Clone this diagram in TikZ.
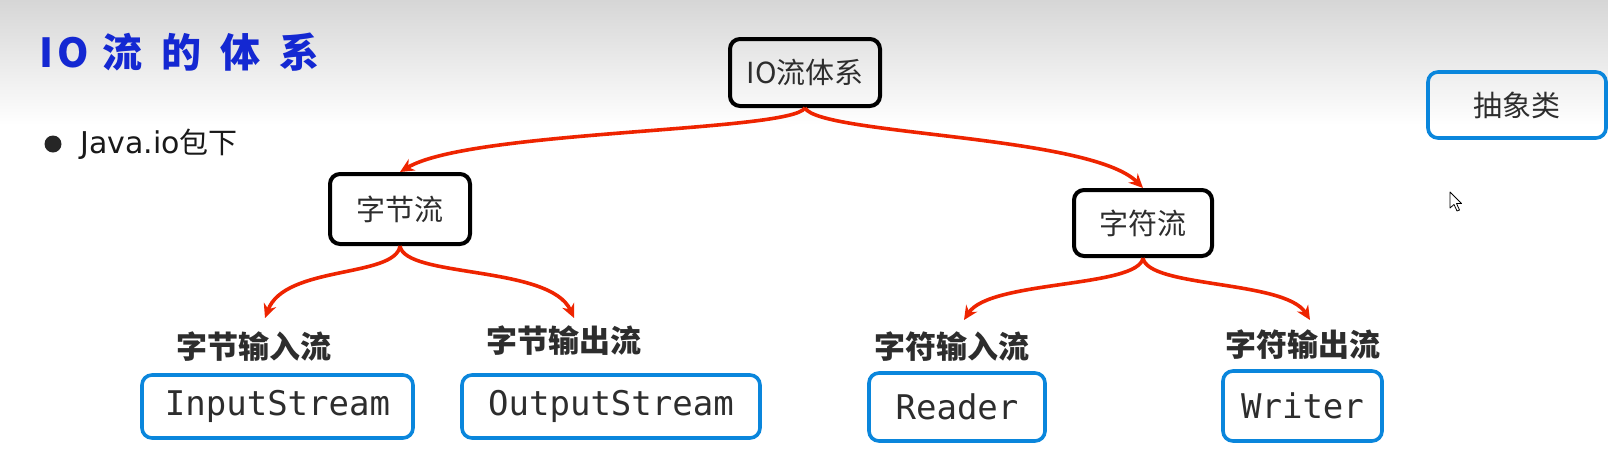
\documentclass[tikz,border=0pt]{standalone}
\usepackage{fontspec}
\usetikzlibrary{arrows.meta}
\newfontfamily\cjk{Noto Sans CJK SC}
\newfontfamily\monof{DejaVu Sans Mono}
\newfontfamily\dejavu{DejaVu Sans}
\definecolor{arrred}{RGB}{238,36,0}
\definecolor{boxblue}{RGB}{10,134,220}
\definecolor{txtgray}{RGB}{45,45,45}
\definecolor{titleblue}{RGB}{20,40,210}
\definecolor{topgray}{RGB}{214,214,214}
\tikzset{
  blackbox/.style={draw=black, line width=4pt, rounded corners=10pt, inner sep=0pt,
    font=\cjk\fontsize{29}{29}\selectfont, text=txtgray},
  bluebox/.style={draw=boxblue, line width=3.6pt, rounded corners=10pt, inner sep=0pt,
    font=\monof\fontsize{34}{34}\selectfont, text=txtgray},
  catlabel/.style={font=\cjk\bfseries\fontsize{31}{31}\selectfont, text=txtgray, inner sep=0pt},
  link/.style={draw=arrred, line width=3.6pt, -{Stealth[length=14pt,width=13pt]}}
}
\begin{document}
\begin{tikzpicture}[x=1pt,y=-1pt]
\useasboundingbox (0,0) rectangle (1608,472);
\fill[white] (0,0) rectangle (1608,472);
\shade[top color=topgray, bottom color=white] (0,0) rectangle (1608,125);

% title
\node[anchor=west, inner sep=0pt, text=titleblue, font=\cjk\bfseries\fontsize{40}{40}\selectfont] (title) at (39,52)
  {I\hspace{4pt}O\hspace{14pt}流\hspace{19pt}的\hspace{19pt}体\hspace{19pt}系};

% bullet
\fill[black!85] (53,144) circle (8.5pt);
\node[anchor=west, inner sep=0pt, text=black!90] (pkg) at (80,144)
  {{\dejavu\fontsize{30}{30}\selectfont Java.io}{\cjk\fontsize{29}{29}\selectfont 包下}};

% black boxes
\node[blackbox, minimum width=150pt, minimum height=67pt] (root) at (805,72.5) {IO流体系};
\node[blackbox, minimum width=140pt, minimum height=70pt] (zj) at (400,209) {字节流};
\node[blackbox, minimum width=138pt, minimum height=66pt] (zf) at (1143,223) {字符流};

% abstract class legend
\node[bluebox, font=\cjk\fontsize{29}{29}\selectfont, minimum width=178pt, minimum height=66pt] (abs) at (1517,105) {抽象类};

% blue boxes
\node[bluebox, minimum width=271pt, minimum height=63pt] (in) at (277.5,406.5) {InputStream};
\node[bluebox, minimum width=298pt, minimum height=63pt] (out) at (611,406.5) {OutputStream};
\node[bluebox, minimum width=176pt, minimum height=68pt] (rd) at (957,407) {Reader};
\node[bluebox, minimum width=159pt, minimum height=70pt] (wr) at (1302.5,406) {Writer};

% labels
\node[catlabel] (lin) at (254,347) {字节输入流};
\node[catlabel] (lout) at (564,341) {字节输出流};
\node[catlabel] (lrd) at (952,347) {字符输入流};
\node[catlabel] (lwr) at (1303,345) {字符输出流};

% arrow end points
\coordinate (t1) at (265,318);
\coordinate (t2) at (574,318);
\coordinate (t3) at (964,320);
\coordinate (t4) at (1310,320);

% arrows
\draw[link] (root.south) .. controls (790,132) and (470,130) .. (zj.north);
\draw[link] (root.south) .. controls (820,135) and (1090,135) .. (zf.north);
\draw[link] (zj.south) .. controls (395,278) and (285,265) .. (t1);
\draw[link] (zj.south) .. controls (405,278) and (550,265) .. (t2);
\draw[link] (zf.south) .. controls (1138,288) and (990,280) .. (t3);
\draw[link] (zf.south) .. controls (1148,288) and (1285,280) .. (t4);

% mouse cursor
\draw[black, line width=0.8pt, fill=white, line join=round]
  (1450,192) -- (1450,208) -- (1454,204.5) -- (1457,211) -- (1459.5,210) -- (1456.5,203.5) -- (1461.5,203.5) -- cycle;
\end{tikzpicture}
\end{document}
